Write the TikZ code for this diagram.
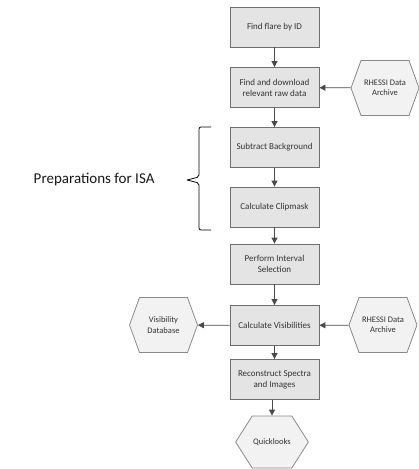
\documentclass[tikz,border=0pt]{standalone}
\usepackage{fontspec}
\setmainfont{Carlito}
\usetikzlibrary{shapes.symbols,arrows.meta}
\definecolor{boxfill}{HTML}{E4E4E4}
\definecolor{boxline}{HTML}{6E6E6E}
\definecolor{hexfill}{HTML}{F2F2F2}
\definecolor{hexline}{HTML}{8A8A8A}
\definecolor{txt}{HTML}{333333}
\definecolor{arr}{HTML}{4A4A4A}
\tikzset{
  stepbox/.style={draw=boxline, fill=boxfill, line width=0.8pt, minimum width=89pt, minimum height=40pt,
    inner sep=1pt, align=center, font=\fontsize{9}{11}\selectfont, text=txt},
  hexnode/.style={shape=signal, signal to=east and west, signal from=nowhere, signal pointer angle=140,
    draw=hexline, fill=hexfill, line width=0.8pt, minimum width=68pt, minimum height=55pt, inner sep=1pt,
    align=center, font=\fontsize{8.5}{10.5}\selectfont, text=txt},
  conn/.style={draw=arr, line width=0.8pt, -{Triangle[length=6pt,width=6pt]}}
}
\begin{document}
\begin{tikzpicture}[x=1pt,y=-1pt]
\useasboundingbox (0,0) rectangle (419,469);
\node[stepbox] (b1) at (274.5,27) {Find flare by ID};
\node[stepbox] (b2) at (274.5,87.5) {Find and download\\relevant raw data};
\node[stepbox] (b3) at (274.5,147.5) {Subtract Background};
\node[stepbox] (b4) at (274.5,207) {Calculate Clipmask};
\node[stepbox] (b5) at (274.5,264) {Perform Interval\\Selection};
\node[stepbox] (b6) at (274.5,325.5) {Calculate Visibilities};
\node[stepbox] (b7) at (274.5,379.5) {Reconstruct Spectra\\and Images};
\node[hexnode] (r1) at (385,88) {RHESSI Data\\Archive};
\node[hexnode] (r2) at (383,325) {RHESSI Data\\Archive};
\node[hexnode] (vd) at (163.5,325) {Visibility\\Database};
\node[hexnode, signal pointer angle=115, minimum width=70pt, minimum height=52pt] (ql) at (272,442) {Quicklooks};
\draw[conn] (b1) -- (b2);
\draw[conn] (b2) -- (b3);
\draw[conn] (b3) -- (b4);
\draw[conn] (b4) -- (b5);
\draw[conn] (b5) -- (b6);
\draw[conn] (b6) -- (b7);
\draw[conn] (b7.south -| ql.north) -- (ql.north);
\draw[conn] (r1) -- (b2);
\draw[conn] (r2) -- (b6);
\draw[conn] (b6) -- (vd);
\coordinate (brtop) at (211,127);
\coordinate (brbot) at (211,230);
\coordinate (brtip) at (187,180);
\draw[line width=0.8pt, rounded corners=2pt]
  (brtop) -- (199,127) -- (199,177) -- (brtip)
  (brtip) -- (199,183) -- (199,230) -- (brbot);
\node[font=\fontsize{15}{18}\selectfont, anchor=east, text=black!90] (prep) at (158,180) {Preparations for ISA};
\end{tikzpicture}
\end{document}
